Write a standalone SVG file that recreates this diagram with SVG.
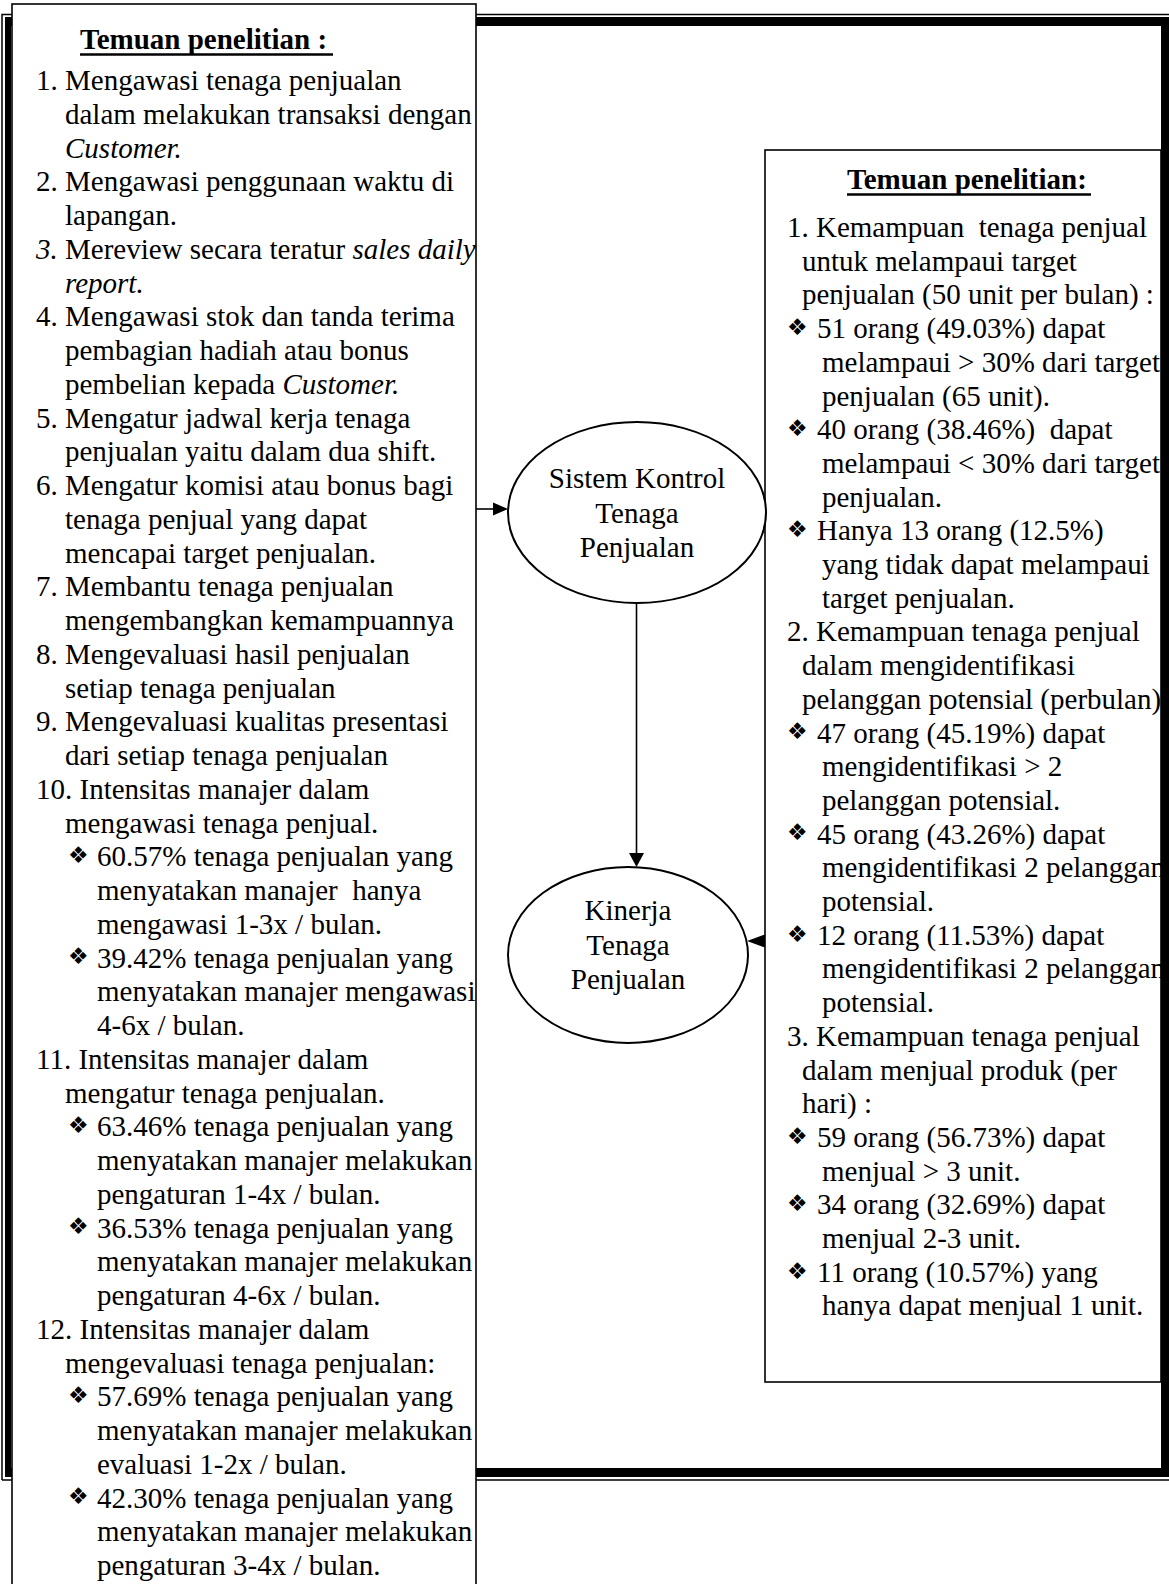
<svg xmlns="http://www.w3.org/2000/svg" width="1169" height="1584" viewBox="0 0 1169 1584">
  <style>
    .t { font-family: "Liberation Serif", "Times New Roman", serif; font-size: 29px; fill: #000; white-space: pre; }
    .i { font-style: italic; }
    .b { font-weight: bold; }
    .c { text-anchor: middle; }
    .blt { font-family: "DejaVu Sans", sans-serif; font-size: 23px; fill: #000; }
    .box { fill: #fff; stroke: #000; stroke-width: 1.6; }
    .node { fill: #fff; stroke: #000; stroke-width: 2; }
    .edge { stroke: #000; stroke-width: 1.6; fill: none; }
    .head { fill: #000; }
    .ul { stroke: #000; stroke-width: 2.5; }
  </style>

  <rect width="1169" height="1584" fill="#fff"/>

  <!-- thick-thin page border -->
  <g id="frame">
    <path d="M2 1480 V14.5 H1175 M2 1480 H1175" fill="none" stroke="#000" stroke-width="1.5"/>
    <rect x="5" y="17" width="1164" height="9" fill="#000"/>
    <rect x="5" y="17" width="6" height="1460" fill="#000"/>
    <rect x="1161" y="17" width="8" height="1460" fill="#000"/>
    <rect x="5" y="1468" width="1164" height="9" fill="#000"/>
  </g>

  <!-- left findings panel -->
  <g id="findings-left">
    <rect class="box" x="12" y="4" width="464" height="1600"/>
    <text class="t b" x="80" y="49">Temuan penelitian :</text>
    <line class="ul" x1="80" y1="54.5" x2="333" y2="54.5"/>

    <text class="t" x="36" y="90">1. Mengawasi tenaga penjualan</text>
    <text class="t" x="65" y="123.75">dalam melakukan transaksi dengan</text>
    <text class="t i" x="65" y="157.5">Customer.</text>
    <text class="t" x="36" y="191.25">2. Mengawasi penggunaan waktu di</text>
    <text class="t" x="65" y="225">lapangan.</text>
    <text class="t" x="36" y="258.75"><tspan class="i">3. </tspan>Mereview secara teratur <tspan class="i">sales daily</tspan></text>
    <text class="t i" x="65" y="292.5">report.</text>
    <text class="t" x="36" y="326.25">4. Mengawasi stok dan tanda terima</text>
    <text class="t" x="65" y="360">pembagian hadiah atau bonus</text>
    <text class="t" x="65" y="393.75">pembelian kepada <tspan class="i">Customer.</tspan></text>
    <text class="t" x="36" y="427.5">5. Mengatur jadwal kerja tenaga</text>
    <text class="t" x="65" y="461.25">penjualan yaitu dalam dua shift.</text>
    <text class="t" x="36" y="495">6. Mengatur komisi atau bonus bagi</text>
    <text class="t" x="65" y="528.75">tenaga penjual yang dapat</text>
    <text class="t" x="65" y="562.5">mencapai target penjualan.</text>
    <text class="t" x="36" y="596.25">7. Membantu tenaga penjualan</text>
    <text class="t" x="65" y="630">mengembangkan kemampuannya</text>
    <text class="t" x="36" y="663.75">8. Mengevaluasi hasil penjualan</text>
    <text class="t" x="65" y="697.5">setiap tenaga penjualan</text>
    <text class="t" x="36" y="731.25">9. Mengevaluasi kualitas presentasi</text>
    <text class="t" x="65" y="765">dari setiap tenaga penjualan</text>
    <text class="t" x="36" y="798.75">10. Intensitas manajer dalam</text>
    <text class="t" x="65" y="832.5">mengawasi tenaga penjual.</text>
    <text class="blt" x="68" y="863">❖</text>
    <text class="t" x="97" y="866.25">60.57% tenaga penjualan yang</text>
    <text class="t" x="97" y="900">menyatakan manajer  hanya</text>
    <text class="t" x="97" y="933.75">mengawasi 1-3x / bulan.</text>
    <text class="blt" x="68" y="964.25">❖</text>
    <text class="t" x="97" y="967.5">39.42% tenaga penjualan yang</text>
    <text class="t" x="97" y="1001.25">menyatakan manajer mengawasi</text>
    <text class="t" x="97" y="1035">4-6x / bulan.</text>
    <text class="t" x="36" y="1068.75">11. Intensitas manajer dalam</text>
    <text class="t" x="65" y="1102.5">mengatur tenaga penjualan.</text>
    <text class="blt" x="68" y="1133">❖</text>
    <text class="t" x="97" y="1136.25">63.46% tenaga penjualan yang</text>
    <text class="t" x="97" y="1170">menyatakan manajer melakukan</text>
    <text class="t" x="97" y="1203.75">pengaturan 1-4x / bulan.</text>
    <text class="blt" x="68" y="1234.25">❖</text>
    <text class="t" x="97" y="1237.5">36.53% tenaga penjualan yang</text>
    <text class="t" x="97" y="1271.25">menyatakan manajer melakukan</text>
    <text class="t" x="97" y="1305">pengaturan 4-6x / bulan.</text>
    <text class="t" x="36" y="1338.75">12. Intensitas manajer dalam</text>
    <text class="t" x="65" y="1372.5">mengevaluasi tenaga penjualan:</text>
    <text class="blt" x="68" y="1403">❖</text>
    <text class="t" x="97" y="1406.25">57.69% tenaga penjualan yang</text>
    <text class="t" x="97" y="1440">menyatakan manajer melakukan</text>
    <text class="t" x="97" y="1473.75">evaluasi 1-2x / bulan.</text>
    <text class="blt" x="68" y="1504.25">❖</text>
    <text class="t" x="97" y="1507.5">42.30% tenaga penjualan yang</text>
    <text class="t" x="97" y="1541.25">menyatakan manajer melakukan</text>
    <text class="t" x="97" y="1575">pengaturan 3-4x / bulan.</text>
  </g>

  <!-- right findings panel -->
  <g id="findings-right">
    <rect class="box" x="765" y="150" width="396" height="1232"/>
    <text class="t b" x="847" y="189">Temuan penelitian:</text>
    <line class="ul" x1="847" y1="194.5" x2="1091" y2="194.5"/>

    <text class="t" x="787" y="237">1. Kemampuan  tenaga penjual</text>
    <text class="t" x="802" y="270.7">untuk melampaui target</text>
    <text class="t" x="802" y="304.4">penjualan (50 unit per bulan) :</text>
    <text class="blt" x="787" y="334.9">❖</text>
    <text class="t" x="817" y="338.1">51 orang (49.03%) dapat</text>
    <text class="t" x="822" y="371.8">melampaui &gt; 30% dari target</text>
    <text class="t" x="822" y="405.5">penjualan (65 unit).</text>
    <text class="blt" x="787" y="436">❖</text>
    <text class="t" x="817" y="439.2">40 orang (38.46%)  dapat</text>
    <text class="t" x="822" y="472.9">melampaui &lt; 30% dari target</text>
    <text class="t" x="822" y="506.6">penjualan.</text>
    <text class="blt" x="787" y="537.1">❖</text>
    <text class="t" x="817" y="540.3">Hanya 13 orang (12.5%)</text>
    <text class="t" x="822" y="574">yang tidak dapat melampaui</text>
    <text class="t" x="822" y="607.7">target penjualan.</text>
    <text class="t" x="787" y="641.4">2. Kemampuan tenaga penjual</text>
    <text class="t" x="802" y="675.1">dalam mengidentifikasi</text>
    <text class="t" x="802" y="708.8">pelanggan potensial (perbulan)</text>
    <text class="blt" x="787" y="739.3">❖</text>
    <text class="t" x="817" y="742.5">47 orang (45.19%) dapat</text>
    <text class="t" x="822" y="776.2">mengidentifikasi &gt; 2</text>
    <text class="t" x="822" y="809.9">pelanggan potensial.</text>
    <text class="blt" x="787" y="840.4">❖</text>
    <text class="t" x="817" y="843.6">45 orang (43.26%) dapat</text>
    <text class="t" x="822" y="877.3">mengidentifikasi 2 pelanggan</text>
    <text class="t" x="822" y="911">potensial.</text>
    <text class="blt" x="787" y="941.5">❖</text>
    <text class="t" x="817" y="944.7">12 orang (11.53%) dapat</text>
    <text class="t" x="822" y="978.4">mengidentifikasi 2 pelanggan</text>
    <text class="t" x="822" y="1012.1">potensial.</text>
    <text class="t" x="787" y="1045.8">3. Kemampuan tenaga penjual</text>
    <text class="t" x="802" y="1079.5">dalam menjual produk (per</text>
    <text class="t" x="802" y="1113.2">hari) :</text>
    <text class="blt" x="787" y="1143.7">❖</text>
    <text class="t" x="817" y="1146.9">59 orang (56.73%) dapat</text>
    <text class="t" x="822" y="1180.6">menjual &gt; 3 unit.</text>
    <text class="blt" x="787" y="1211.1">❖</text>
    <text class="t" x="817" y="1214.3">34 orang (32.69%) dapat</text>
    <text class="t" x="822" y="1248">menjual 2-3 unit.</text>
    <text class="blt" x="787" y="1278.5">❖</text>
    <text class="t" x="817" y="1281.7">11 orang (10.57%) yang</text>
    <text class="t" x="822" y="1315.4">hanya dapat menjual 1 unit.</text>
  </g>

  <!-- construct nodes -->
  <g id="node-sistem-kontrol">
    <ellipse class="node" cx="637" cy="512.5" rx="129" ry="90.5"/>
    <text class="t c" x="637" y="488">Sistem Kontrol</text>
    <text class="t c" x="637" y="522.5">Tenaga</text>
    <text class="t c" x="637" y="557">Penjualan</text>
  </g>

  <g id="node-kinerja">
    <ellipse class="node" cx="628" cy="955" rx="120" ry="88"/>
    <text class="t c" x="628" y="920">Kinerja</text>
    <text class="t c" x="628" y="955">Tenaga</text>
    <text class="t c" x="628" y="989">Penjualan</text>
  </g>

  <!-- arrows between panels and nodes -->
  <g id="connectors">
    <line class="edge" x1="476" y1="509" x2="495" y2="509"/>
    <polygon class="head" points="508,509 493,502.5 493,515.5"/>
    <line class="edge" x1="636.5" y1="603" x2="636.5" y2="855"/>
    <polygon class="head" points="636.5,867 629,853 644,853"/>
    <line class="edge" x1="765" y1="941" x2="755" y2="941"/>
    <polygon class="head" points="747,941 765,934.5 765,947.5"/>
  </g>
</svg>
